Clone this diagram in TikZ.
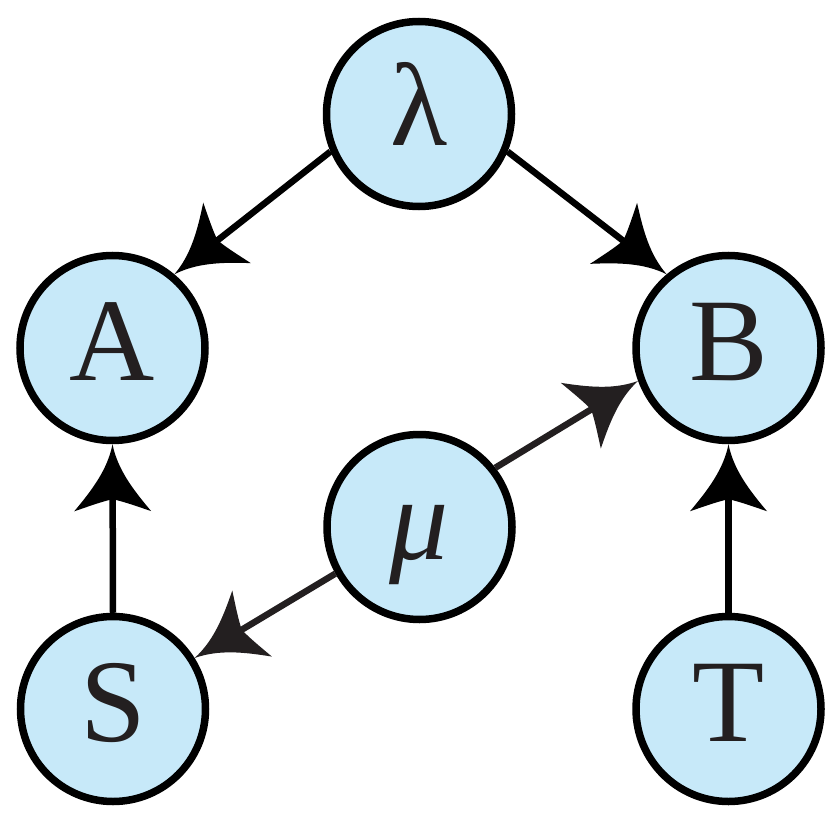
\documentclass[tikz,border=0pt]{standalone}
\usepackage{fontspec}
\setmainfont{Liberation Serif}
\definecolor{nodefill}{HTML}{C7E9F9}
\definecolor{inkdark}{HTML}{231F20}
\pgfdeclarearrow{
  name = Flare,
  setup code = {
    \pgfarrowssettipend{0pt}
    \pgfarrowssetlineend{-50pt}
    \pgfarrowssetbackend{-67pt}
    \pgfarrowsupperhullpoint{0pt}{0pt}
    \pgfarrowsupperhullpoint{-67pt}{38.5pt}
  },
  drawing code = {
    \pgfpathmoveto{\pgfqpoint{0pt}{0pt}}
    \pgfpathcurveto{\pgfqpoint{-25pt}{5pt}}{\pgfqpoint{-45pt}{20pt}}{\pgfqpoint{-67pt}{38.5pt}}
    \pgfpathcurveto{\pgfqpoint{-62pt}{24pt}}{\pgfqpoint{-57pt}{10pt}}{\pgfqpoint{-55pt}{0pt}}
    \pgfpathcurveto{\pgfqpoint{-57pt}{-10pt}}{\pgfqpoint{-62pt}{-24pt}}{\pgfqpoint{-67pt}{-38.5pt}}
    \pgfpathcurveto{\pgfqpoint{-45pt}{-20pt}}{\pgfqpoint{-25pt}{-5pt}}{\pgfqpoint{0pt}{0pt}}
    \pgfpathclose
    \pgfusepathqfill
  }
}
\tikzset{
  var/.style={circle, draw=black, line width=7.5pt, fill=nodefill, minimum size=185pt,
    inner sep=0pt, text=inkdark, font=\fontsize{118}{122}\selectfont,
    text height=80pt, text depth=16pt},
  conn/.style={line width=6.5pt, -Flare},
}
\begin{document}
\begin{tikzpicture}[x=1pt,y=-1pt]
\useasboundingbox (0,0) rectangle (832,818);
\node[var] (lam) at (419,114) {λ};
\node[var] (A) at (112.5,348) {A};
\node[var] (B) at (728.5,348) {B};
\node[var] (mu) at (419.5,527) {\textit{μ}};
\node[var] (S) at (113,709) {S};
\node[var] (T) at (728.5,709) {T};
\draw[conn] (lam.203) -- (A.50);
\draw[conn] (lam.-23) -- (B.130);
\draw[conn, draw=inkdark, fill=inkdark] (mu.38) -- (B.200);
\draw[conn, draw=inkdark, fill=inkdark] (mu.209) -- (S.32);
\draw[conn] (S.north) -- (A.south);
\draw[conn] (T.north) -- (B.south);
\end{tikzpicture}
\end{document}
